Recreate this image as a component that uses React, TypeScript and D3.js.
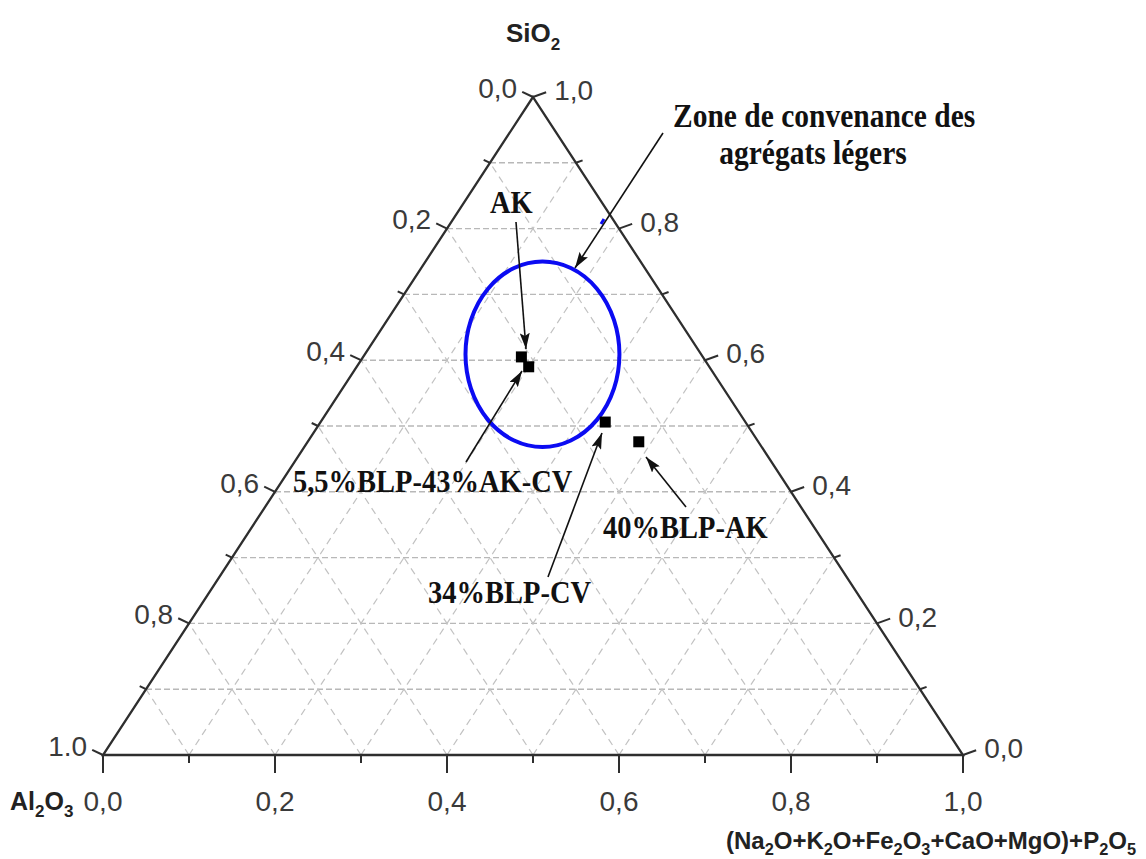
import * as d3 from "d3";
import React from "react";

// samples (fractions, SiO2 + Al2O3 + flux = 1)
const sampleNames = ["AK", "5,5%BLP-43%AK-CV", "34%BLP-CV", "40%BLP-AK"];
const sio2Values = [0.605, 0.59, 0.506, 0.476];
const al2o3Values = [0.211, 0.21, 0.163, 0.139];
const fluxValues = [0.184, 0.2, 0.331, 0.385];

const majorTicks = [0, 0.2, 0.4, 0.6, 0.8, 1.0];
const minorTicks = [0.1, 0.3, 0.5, 0.7, 0.9];
const gridValues = [0.1, 0.2, 0.3, 0.4, 0.5, 0.6, 0.7, 0.8, 0.9];
const bottomTickLabels = ["0,0", "0,2", "0,4", "0,6", "0,8", "1,0"];
const leftTickLabels = ["0,0", "0,2", "0,4", "0,6", "0,8", "1.0"];
const rightTickLabels = ["0,0", "0,2", "0,4", "0,6", "0,8", "1,0"];

// "zone de convenance" ellipse, ternary units
const zoneCenter = { sio2: 0.609, flux: 0.2065 };
const zoneRadius = { flux: 0.0895, sio2: 0.141 };

// label layout: [text x, text y, arrow from x, from y, arrow to x, to y]
const annotations: [string, number, number, number, number, number, number][] = [
  ["AK", 490, 213, 516, 222, 526, 349],
  ["5,5%BLP-43%AK-CV", 293, 492, 466, 462, 522, 371],
  ["34%BLP-CV", 428, 603, 548, 577, 602, 433],
  ["40%BLP-AK", 603, 538, 686, 507, 646, 457],
];

const App: React.FC = () => {
  const ref = React.useRef<SVGSVGElement>(null);

  React.useEffect(() => {
    const svg = d3.select(ref.current);
    svg.selectAll("*").remove();

    const sY = d3.scaleLinear().domain([0, 1]).range([755, 97]);
    const fX = d3.scaleLinear().domain([0, 1]).range([103, 963]);
    const project = (s: number, x: number): [number, number] => [fX(x + s / 2), sY(s)];

    const defs = svg.append("defs");
    defs
      .append("marker")
      .attr("id", "head")
      .attr("viewBox", "0 0 16 10")
      .attr("refX", 16)
      .attr("refY", 5)
      .attr("markerWidth", 16)
      .attr("markerHeight", 10)
      .attr("markerUnits", "userSpaceOnUse")
      .attr("orient", "auto")
      .append("path")
      .attr("d", "M0,0L16,5L0,10L3,5Z")
      .attr("fill", "#111");

    const grid = svg.append("g").attr("fill", "none");
    // constant SiO2 (horizontal)
    gridValues.forEach((v) => {
      const a = project(v, 0);
      const b = project(v, 1 - v);
      grid
        .append("line")
        .attr("x1", a[0]).attr("y1", a[1]).attr("x2", b[0]).attr("y2", b[1])
        .attr("stroke", "#b8b8b8").attr("stroke-width", 1.4)
        .attr("stroke-dasharray", "6,3");
    });
    // constant flux (parallel to left edge)
    gridValues.forEach((v) => {
      const a = project(0, v);
      const b = project(1 - v, v);
      grid
        .append("line")
        .attr("x1", a[0]).attr("y1", a[1]).attr("x2", b[0]).attr("y2", b[1])
        .attr("stroke", "#c2c2c2").attr("stroke-width", 1.2)
        .attr("stroke-dasharray", "7,5");
    });
    // constant Al2O3 (parallel to right edge)
    gridValues.forEach((v) => {
      const a = project(0, 1 - v);
      const b = project(1 - v, 0);
      grid
        .append("line")
        .attr("x1", a[0]).attr("y1", a[1]).attr("x2", b[0]).attr("y2", b[1])
        .attr("stroke", "#c2c2c2").attr("stroke-width", 1.2)
        .attr("stroke-dasharray", "7,5");
    });

    // triangle
    const tri = [project(1, 0), project(0, 0), project(0, 1)];
    svg
      .append("path")
      .attr("d", d3.line()(tri) + "Z")
      .attr("fill", "none")
      .attr("stroke", "#2e2e2e")
      .attr("stroke-width", 2.3)
      .attr("stroke-linejoin", "miter");

    const ticks = svg.append("g").attr("stroke", "#2e2e2e").attr("stroke-width", 2);
    const leftDir = [-0.9, -0.43];
    const rightDir = [0.94, -0.34];
    const addTick = (p: [number, number], d: number[], len: number) =>
      ticks
        .append("line")
        .attr("x1", p[0]).attr("y1", p[1])
        .attr("x2", p[0] + d[0] * len).attr("y2", p[1] + d[1] * len);

    majorTicks.forEach((v) => {
      addTick(project(0, v), [0, 1], 18);
      addTick(project(1 - v, 0), leftDir, 12);
      addTick(project(v, 1 - v), rightDir, 14);
    });
    minorTicks.forEach((v) => {
      addTick(project(0, v), [0, 1], 8);
      addTick(project(1 - v, 0), leftDir, 7);
      addTick(project(v, 1 - v), rightDir, 7);
    });

    const labels = svg
      .append("g")
      .attr("font-family", "'Liberation Sans', Arial, sans-serif")
      .attr("font-size", 28)
      .attr("fill", "#3a3a3a");
    majorTicks.forEach((v, i) => {
      const b = project(0, v);
      labels.append("text").attr("x", b[0]).attr("y", 811).attr("text-anchor", "middle").text(bottomTickLabels[i]);
      const l = project(1 - v, 0);
      labels
        .append("text")
        .attr("x", l[0] + leftDir[0] * 12 - 5)
        .attr("y", l[1] + leftDir[1] * 12 + 6)
        .attr("text-anchor", "end")
        .text(leftTickLabels[i]);
      const r = project(v, 1 - v);
      labels
        .append("text")
        .attr("x", r[0] + rightDir[0] * 14 + 8)
        .attr("y", r[1] + rightDir[1] * 14 + 8)
        .text(rightTickLabels[i]);
    });

    // axis titles
    const sio2Title = svg
      .append("text")
      .attr("x", 506).attr("y", 42)
      .attr("font-family", "'Liberation Sans', Arial, sans-serif")
      .attr("font-weight", "bold").attr("font-size", 26).attr("fill", "#222");
    sio2Title.append("tspan").text("SiO");
    sio2Title.append("tspan").attr("font-size", 17).attr("dy", 8).text("2");

    const alTitle = svg
      .append("text")
      .attr("x", 10).attr("y", 810)
      .attr("font-family", "'Liberation Sans', Arial, sans-serif")
      .attr("font-weight", "bold").attr("font-size", 25).attr("fill", "#222");
    alTitle.append("tspan").text("Al");
    alTitle.append("tspan").attr("font-size", 17).attr("dy", 7).text("2");
    alTitle.append("tspan").attr("dy", -7).text("O");
    alTitle.append("tspan").attr("font-size", 17).attr("dy", 7).text("3");

    const fluxTitle = svg
      .append("text")
      .attr("x", 726).attr("y", 849)
      .attr("font-family", "'Liberation Sans', Arial, sans-serif")
      .attr("font-weight", "bold").attr("font-size", 23.5).attr("fill", "#222")
      .attr("textLength", 410)
      .attr("lengthAdjust", "spacingAndGlyphs");
    const parts: [string, boolean][] = [
      ["(Na", false], ["2", true], ["O+K", false], ["2", true], ["O+Fe", false], ["2", true],
      ["O", false], ["3", true], ["+CaO+MgO)+P", false], ["2", true], ["O", false], ["5", true],
    ];
    let sub = false;
    parts.forEach(([t, isSub]) => {
      const dy = isSub === sub ? 0 : isSub ? 6 : -6;
      sub = isSub;
      fluxTitle.append("tspan").attr("dy", dy).attr("font-size", isSub ? 16 : 23.5).text(t);
    });

    // zone ellipse
    const c = project(zoneCenter.sio2, zoneCenter.flux);
    svg
      .append("ellipse")
      .attr("cx", c[0]).attr("cy", c[1])
      .attr("rx", fX(zoneRadius.flux) - fX(0))
      .attr("ry", sY(0) - sY(zoneRadius.sio2))
      .attr("fill", "none")
      .attr("stroke", "#0b0bf2")
      .attr("stroke-width", 4);
    svg
      .append("line")
      .attr("x1", 601).attr("y1", 224).attr("x2", 604).attr("y2", 219)
      .attr("stroke", "#0b0bf2").attr("stroke-width", 3);

    // samples
    svg
      .append("g")
      .selectAll("rect")
      .data(sampleNames.map((n, i) => ({ n, s: sio2Values[i], a: al2o3Values[i], x: fluxValues[i] })))
      .enter()
      .append("rect")
      .attr("x", (d) => project(d.s, d.x)[0] - 5.5)
      .attr("y", (d) => project(d.s, d.x)[1] - 5.5)
      .attr("width", 11)
      .attr("height", 11)
      .attr("fill", "#000");

    // annotations
    const serif = "'Liberation Serif', 'Times New Roman', serif";
    const ann = svg.append("g");
    const addLabel = (t: string, x: number, y: number, anchor = "start", size = 28.5) =>
      ann
        .append("text")
        .attr("transform", `translate(${x},${y}) scale(1,1.12)`)
        .attr("text-anchor", anchor)
        .attr("font-family", serif)
        .attr("font-weight", "bold")
        .attr("font-size", size)
        .attr("fill", "#111")
        .text(t);
    const addArrow = (x1: number, y1: number, x2: number, y2: number) =>
      ann
        .append("line")
        .attr("x1", x1).attr("y1", y1).attr("x2", x2).attr("y2", y2)
        .attr("stroke", "#111").attr("stroke-width", 1.6)
        .attr("marker-end", "url(#head)");

    annotations.forEach(([t, tx, ty, x1, y1, x2, y2]) => {
      addLabel(t, tx, ty);
      addArrow(x1, y1, x2, y2);
    });
    addLabel("Zone de convenance des", 673, 127, "start", 29.5);
    addLabel("agrégats légers", 813, 164, "middle", 29.5);
    addArrow(663, 133, 575, 268);
  }, []);

  return (
    <svg
      ref={ref}
      width={1146}
      height={859}
      style={{ position: "absolute", left: 0, top: 0, background: "#fff" }}
    />
  );
};

export default App;
